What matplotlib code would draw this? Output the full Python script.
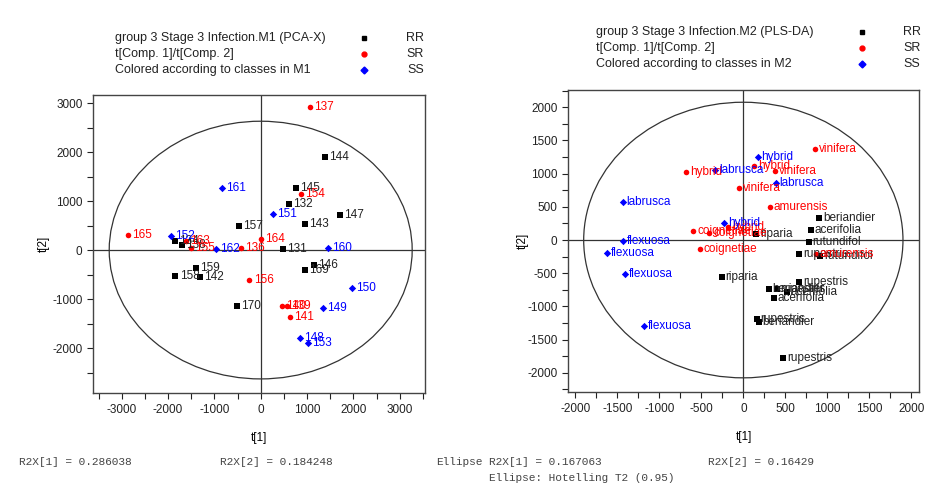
import matplotlib.pyplot as plt
from matplotlib.patches import Ellipse
from matplotlib.ticker import MultipleLocator

plt.rcParams['font.family'] = ['Liberation Sans', 'DejaVu Sans']
plt.rcParams['axes.unicode_minus'] = False

# --- M1 (PCA-X) scores ---
m1_rr_x = [-465, 479, 609, 752, 954, 1387, 1717, 1141, 946, -1393, -1840, -1307, -514, -1847, -1702]
m1_rr_y = [497, 14, 945, 1259, 537, 1898, 708, -300, -415, -367, -537, -551, -1137, 184, 96]
m1_rr_lab = ['157', '131', '132', '145', '143', '144', '147', '146', '169', '159', '158', '142', '170', '134', '138']

m1_sr_x = [-2868, -1616, -1501, -428, 4, 1069, 860, -242, 458, 566, 637]
m1_sr_y = [300, 177, 47, 47, 224, 2912, 1149, -612, -1137, -1137, -1374]
m1_sr_lab = ['165', '163', '155', '136', '164', '137', '154', '156', '140', '139', '141']

m1_ss_x = [-838, -1933, -961, 255, 1443, 1961, 1350, 853, 1019]
m1_ss_y = [1271, 292, 14, 741, 35, -769, -1177, -1803, -1898]
m1_ss_lab = ['161', '152', '162', '151', '160', '150', '149', '148', '153']

# --- M2 (PLS-DA) scores ---
m2_rr_x = [905, 802, 778, 667, 913, 151, -257, 667, 302, 397, 516, 366, 159, 183, 476]
m2_rr_y = [336, 155, -25, -206, -245, 90, -551, -627, -737, -742, -777, -877, -1188, -1228, -1779]
m2_rr_lab = ['beriandier', 'acerifolia', 'rutundifol', 'rupestris', 'rutundifol', 'riparia',
             'riparia', 'rupestris', 'beriandier', 'rupestris', 'acerifolia', 'acerifolia',
             'rupestris', 'beriandier', 'rupestris']

m2_sr_x = [854, 131, 377, -48, -682, 318, -595, -405, -515, -180, 865]
m2_sr_y = [1378, 1108, 1033, 777, 1027, 496, 140, 100, -130, 200, -215]
m2_sr_lab = ['vinifera', 'hybrid', 'vinifera', 'vinifera', 'hybrid', 'amurensis',
             'coignetiae', 'coignetiae', 'coignetiae', 'hybrid', 'amurensis']

m2_ss_x = [171, -337, 385, -1436, -230, -1436, -1619, -1405, -1182]
m2_ss_y = [1253, 1057, 862, 571, 251, -20, -195, -516, -1293]
m2_ss_lab = ['hybrid', 'labrusca', 'labrusca', 'labrusca', 'hybrid', 'flexuosa',
             'flexuosa', 'flexuosa', 'flexuosa']

classes = ['RR', 'SR', 'SS']
fs = 8.5

fig = plt.figure(figsize=(9.49, 5.04), dpi=100)
fig.patch.set_facecolor('white')


def scores(ax, groups, ell_w, ell_h, dx):
    for xs, ys, labs, col, mk, ms in groups:
        ax.scatter(xs, ys, c=col, marker=mk, s=ms, zorder=3, linewidths=0)
        for x, y, t in zip(xs, ys, labs):
            ax.text(x + dx, y, t, color=col if col != 'black' else '#222222',
                    fontsize=fs, va='center', ha='left', zorder=4)
    ax.axhline(0, color='#333333', lw=0.9, zorder=1)
    ax.axvline(0, color='#333333', lw=0.9, zorder=1)
    ax.add_patch(Ellipse((0, 0), 2 * ell_w, 2 * ell_h, fill=False,
                         ec='#333333', lw=0.9, zorder=2))
    for s in ax.spines.values():
        s.set_color('#444444')
        s.set_linewidth(1.0)
    ax.tick_params(which='both', direction='out', length=4, width=0.8,
                   labelsize=fs, colors='#222222')


def legend_block(x0, y0, lines, mx, lx):
    for i, (t, cl, col, mk) in enumerate(zip(lines, classes,
                                              ['black', 'red', 'blue'],
                                              ['s', 'o', 'D'])):
        y = y0 - i * 0.032
        fig.text(x0, y, t, fontsize=fs + 0.5, va='center', ha='left', color='#222222')
        fig.text(lx, y, cl, fontsize=fs + 0.5, va='center', ha='right', color='#222222')
        fig.lines.append(plt.Line2D([mx], [y], marker=mk, color=col, ms=3.5,
                                    mec=col, transform=fig.transFigure))


# left panel
ax1 = fig.add_axes([0.098, 0.220, 0.350, 0.591])
scores(ax1, [(m1_rr_x, m1_rr_y, m1_rr_lab, 'black', 's', 14),
             (m1_sr_x, m1_sr_y, m1_sr_lab, 'red', 'o', 16),
             (m1_ss_x, m1_ss_y, m1_ss_lab, 'blue', 'D', 14)], 3270, 2630, 90)
ax1.set_xlim(-3620, 3550)
ax1.set_ylim(-2920, 3160)
ax1.xaxis.set_major_locator(MultipleLocator(1000))
ax1.xaxis.set_minor_locator(MultipleLocator(500))
ax1.yaxis.set_major_locator(MultipleLocator(1000))
ax1.yaxis.set_minor_locator(MultipleLocator(500))
ax1.set_xlabel('t[1]', fontsize=fs, labelpad=12)
ax1.set_ylabel('t[2]', fontsize=fs, labelpad=2)

# right panel
ax2 = fig.add_axes([0.5985, 0.222, 0.370, 0.599])
scores(ax2, [(m2_rr_x, m2_rr_y, m2_rr_lab, 'black', 's', 14),
             (m2_sr_x, m2_sr_y, m2_sr_lab, 'red', 'o', 16),
             (m2_ss_x, m2_ss_y, m2_ss_lab, 'blue', 'D', 14)], 1900, 2075, 45)
ax2.set_xlim(-2087, 2092)
ax2.set_ylim(-2290, 2256)
ax2.xaxis.set_major_locator(MultipleLocator(500))
ax2.xaxis.set_minor_locator(MultipleLocator(250))
ax2.yaxis.set_major_locator(MultipleLocator(500))
ax2.yaxis.set_minor_locator(MultipleLocator(250))
ax2.set_xlabel('t[1]', fontsize=fs, labelpad=12)
ax2.set_ylabel('t[2]', fontsize=fs, labelpad=-1)

legend_block(0.121, 1 - 38 / 504, ['group 3 Stage 3 Infection.M1 (PCA-X)',
                                   't[Comp. 1]/t[Comp. 2]',
                                   'Colored according to classes in M1'], 0.3835, 0.447)
legend_block(0.628, 1 - 32 / 504, ['group 3 Stage 3 Infection.M2 (PLS-DA)',
                                   't[Comp. 1]/t[Comp. 2]',
                                   'Colored according to classes in M2'], 0.908, 0.970)

mono = dict(family=['Liberation Mono', 'DejaVu Sans Mono'], fontsize=8,
            color='#444444', va='center')
fig.text(19 / 949, 1 - 462 / 504, 'R2X[1] = 0.286038', **mono)
fig.text(220 / 949, 1 - 462 / 504, 'R2X[2] = 0.184248', **mono)
fig.text(436 / 949, 1 - 462 / 504, 'Ellipse', **mono)
fig.text(489 / 949, 1 - 462 / 504, 'R2X[1] = 0.167063', **mono)
fig.text(708 / 949, 1 - 462 / 504, 'R2X[2] = 0.16429', **mono)
fig.text(489 / 949, 1 - 478 / 504, 'Ellipse: Hotelling T2 (0.95)', **mono)

fig.savefig('out.png', dpi=100, facecolor='white')
